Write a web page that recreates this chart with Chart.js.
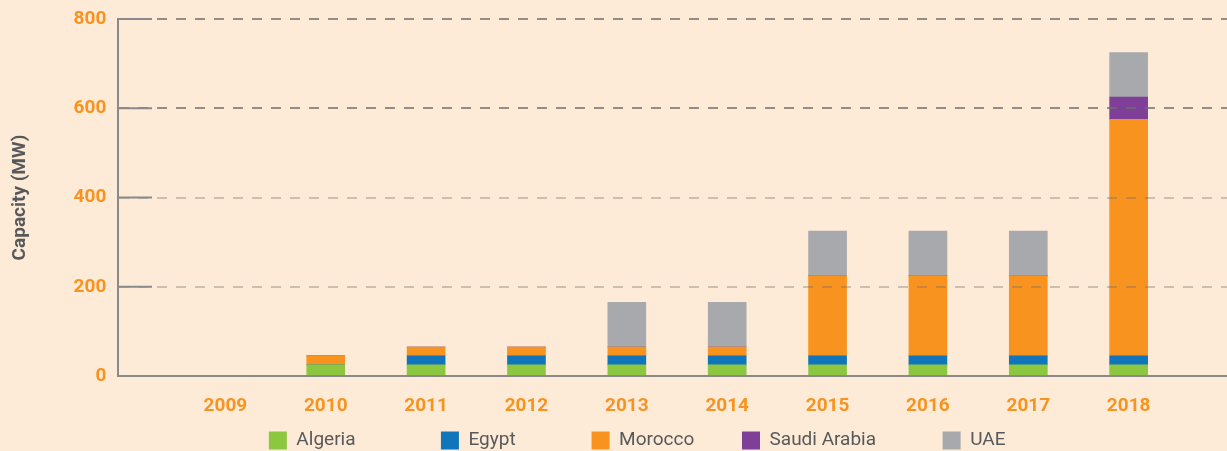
<!DOCTYPE html>
<html>
<head>
<meta charset="utf-8">
<script src="https://cdn.jsdelivr.net/npm/chart.js@4.4.1/dist/chart.umd.min.js"></script>
<style>
    html, body { margin: 0; padding: 0; background: #fdebd7; overflow: hidden; }
    #wrap { position: relative; width: 1227px; height: 460px; }
</style>
</head>
<body>
<div id="wrap"><canvas id="chartCapacidad"></canvas></div>
<script>
const years = [2009, 2010, 2011, 2012, 2013, 2014, 2015, 2016, 2017, 2018];
const algeria = [0, 25, 25, 25, 25, 25, 25, 25, 25, 25];
const egypt = [0, 0, 20, 20, 20, 20, 20, 20, 20, 20];
const morocco = [0, 20, 20, 20, 20, 20, 180, 180, 180, 530];
const saudiArabia = [0, 0, 0, 0, 0, 0, 0, 0, 0, 50];
const uae = [0, 0, 0, 0, 100, 100, 100, 100, 100, 100];
const yTicks = [0, 200, 400, 600, 800];

// spaces after each name only widen the gaps between legend items
const seriesNames = ['Algeria', 'Egypt', 'Morocco', 'Saudi Arabia', 'UAE'];
const legendGaps = [16, 14, 8, 12, 15];

const orange = '#f7931e';
const greyText = '#58595b';
const axisGrey = '#8a8a8a';

const toPoints = values => years.map((yr, i) => ({ x: yr, y: values[i] }));

const makeSet = (label, values, color) => ({
    label: label,
    data: toPoints(values),
    backgroundColor: color,
    borderWidth: 0,
    barThickness: 38
});

// solid short piece of each gridline next to the y axis
const tickStubs = {
    id: 'tickStubs',
    afterDraw(chart) {
        const { ctx, chartArea, scales } = chart;
        ctx.save();
        ctx.strokeStyle = axisGrey;
        ctx.lineWidth = 2;
        scales.y.ticks.forEach(t => {
            if (t.value === 0) return;
            const py = scales.y.getPixelForValue(t.value);
            ctx.beginPath();
            ctx.moveTo(chartArea.left, py);
            ctx.lineTo(chartArea.left + 34, py);
            ctx.stroke();
        });
        ctx.restore();
    }
};

const ctx = document.getElementById('chartCapacidad').getContext('2d');

const chartCapacidad = new Chart(ctx, {
    type: 'bar',
    data: {
        datasets: [
            makeSet(seriesNames[0], algeria, '#8dc63f'),
            makeSet(seriesNames[1], egypt, '#1175bb'),
            makeSet(seriesNames[2], morocco, '#f7931e'),
            makeSet(seriesNames[3], saudiArabia, '#7f3f98'),
            makeSet(seriesNames[4], uae, '#a7a9ac')
        ]
    },
    options: {
        responsive: true,
        maintainAspectRatio: false,
        animation: false,
        layout: { padding: { top: 19, right: 0, left: 0, bottom: 0 } },
        plugins: {
            tooltip: { enabled: false },
            legend: {
                position: 'bottom',
                fullSize: false,
                labels: {
                    font: { family: 'Roboto', size: 19 },
                    color: greyText,
                    boxWidth: 18,
                    boxHeight: 18,
                    padding: 10,
                    generateLabels(chart) {
                        return chart.data.datasets.map((ds, i) => ({
                            text: ds.label + ' '.repeat(legendGaps[i]),
                            fillStyle: ds.backgroundColor,
                            strokeStyle: ds.backgroundColor,
                            lineWidth: 0,
                            fontColor: greyText,
                            datasetIndex: i
                        }));
                    }
                }
            }
        },
        scales: {
            x: {
                type: 'linear',
                offset: false,
                stacked: true,
                min: 2007.93,
                max: 2018.98,
                grid: { display: false },
                border: { color: axisGrey, width: 2, z: 1 },
                afterBuildTicks: s => { s.ticks = years.map(v => ({ value: v })); },
                afterFit: s => { s.height = 45; },
                ticks: {
                    autoSkip: false,
                    maxRotation: 0,
                    padding: 11,
                    color: orange,
                    font: { family: 'Roboto', size: 19, weight: 'bold' },
                    callback: v => String(v)
                }
            },
            y: {
                stacked: true,
                min: 0,
                max: 800,
                afterBuildTicks: s => { s.ticks = yTicks.map(v => ({ value: v })); },
                afterFit: s => { s.width = 118; },
                grid: {
                    z: 1,
                    drawTicks: false,
                    lineWidth: 2,
                    color: c => {
                        if (c.tick.value === 0) return 'rgba(0,0,0,0)';
                        return c.tick.value >= 600 ? 'rgba(110,110,110,0.75)' : 'rgba(110,110,110,0.35)';
                    }
                },
                border: { color: axisGrey, width: 2, dash: [10, 9], z: 1 },
                ticks: {
                    padding: 7,
                    color: orange,
                    font: { family: 'Roboto', size: 19, weight: 'bold' },
                    callback: v => v + ' '
                },
                title: {
                    display: true,
                    text: 'Capacity (MW)',
                    color: greyText,
                    font: { family: 'Roboto', size: 19, weight: 'bold' },
                    padding: { top: 9, bottom: 0 }
                }
            }
        }
    },
    plugins: [tickStubs]
});
</script>
</body>
</html>
